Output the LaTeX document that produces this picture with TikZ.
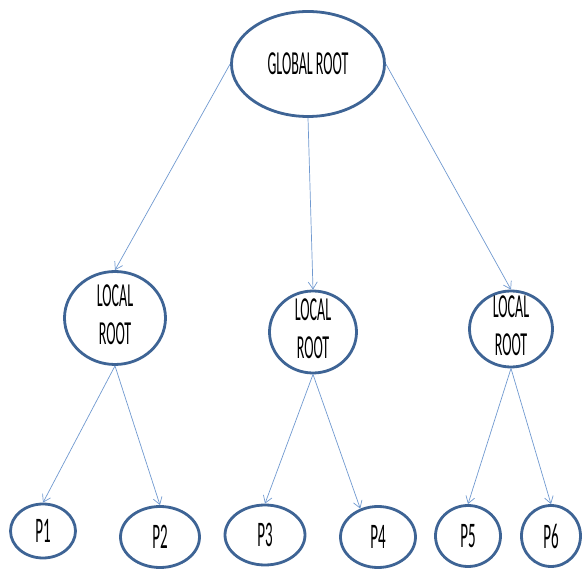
\documentclass[tikz,border=0pt]{standalone}
\usepackage{fontspec}
\setmainfont{Carlito}
\usetikzlibrary{shapes.geometric,arrows.meta}
\definecolor{ringblue}{HTML}{3E6495}
\definecolor{arrowblue}{HTML}{7099D0}
\newcommand{\talltext}[1]{\scalebox{1}[2.4]{#1}}
\newcommand{\twoline}[2]{\talltext{\begin{tabular}{@{}c@{}}#1\\#2\end{tabular}}}
\begin{document}
\begin{tikzpicture}[x=1pt,y=-1pt,
  ring/.style={ellipse, draw=ringblue, line width=2.8pt, inner sep=0pt, fill=white},
  lbl/.style={font=\fontsize{14}{16}\selectfont, align=center, inner sep=0pt},
  plbl/.style={font=\fontsize{15}{17}\selectfont, inner sep=0pt},
  conn/.style={draw=arrowblue, line width=0.7pt, -{Straight Barb[length=7pt,width=9pt]}}]
\useasboundingbox (0,0) rectangle (582,572);
% rings
\node[ring, minimum width=153pt, minimum height=105pt] (gr) at (308,64) {};
\node[ring, minimum width=101pt, minimum height=93pt] (lr1) at (115,318) {};
\node[ring, minimum width=87pt, minimum height=82pt] (lr2) at (313,332) {};
\node[ring, minimum width=83pt, minimum height=76pt] (lr3) at (511,329) {};
\node[ring, minimum width=65pt, minimum height=54pt] (p1) at (43,531) {};
\node[ring, minimum width=79pt, minimum height=61pt] (p2) at (160,537) {};
\node[ring, minimum width=80pt, minimum height=60pt] (p3) at (265,535) {};
\node[ring, minimum width=75pt, minimum height=61pt] (p4) at (378,537) {};
\node[ring, minimum width=65pt, minimum height=61pt] (p5) at (468,536) {};
\node[ring, minimum width=59pt, minimum height=61pt] (p6) at (551,536) {};
% labels
\node[lbl] (grt) at (gr.center) {\talltext{GLOBAL ROOT}};
\node[lbl] (lr1t) at (lr1.center) {\twoline{LOCAL}{ROOT}};
\node[lbl] (lr2t) at (lr2.center) {\twoline{LOCAL}{ROOT}};
\node[lbl] (lr3t) at (lr3.center) {\twoline{LOCAL}{ROOT}};
\node[plbl] (p1t) at (p1.center) {\talltext{P1}};
\node[plbl] (p2t) at (p2.center) {\talltext{P2}};
\node[plbl] (p3t) at (p3.center) {\talltext{P3}};
\node[plbl] (p4t) at (p4.center) {\talltext{P4}};
\node[plbl] (p5t) at (p5.center) {\talltext{P5}};
\node[plbl] (p6t) at (p6.center) {\talltext{P6}};
% connectors
\draw[conn] (gr.west) -- (lr1.north);
\draw[conn] (gr.south) -- (lr2.north);
\draw[conn] (gr.east) -- (lr3.north);
\draw[conn] (lr1.south) -- (p1.north);
\draw[conn] (lr1.south) -- (p2.north);
\draw[conn] (lr2.south) -- (p3.north);
\draw[conn] (lr2.south) -- (p4.122);
\draw[conn] (lr3.south) -- (p5.north);
\draw[conn] (lr3.south) -- (p6.north);
\end{tikzpicture}
\end{document}
